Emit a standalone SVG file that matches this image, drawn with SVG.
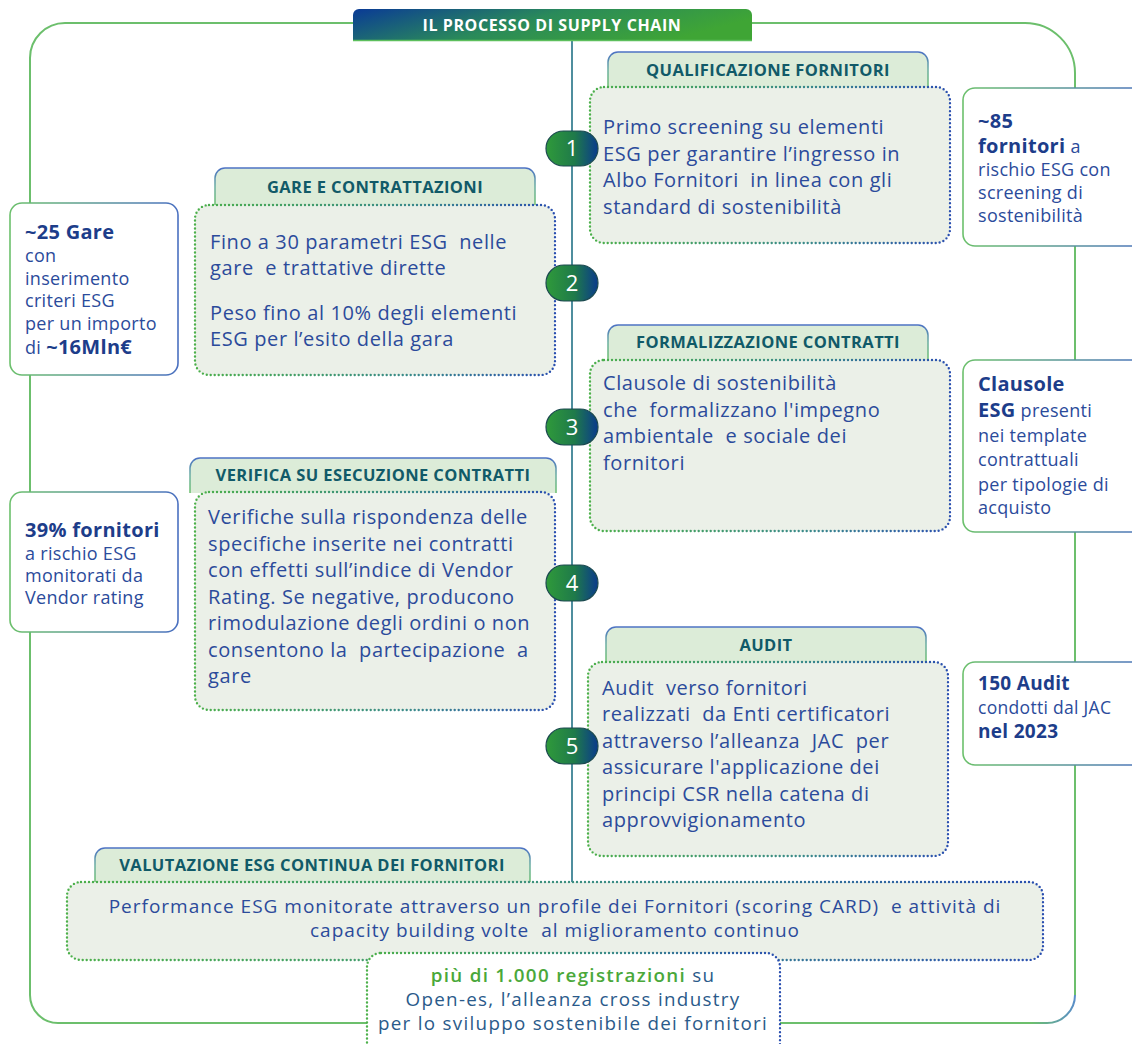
<svg xmlns="http://www.w3.org/2000/svg" width="1132" height="1044" viewBox="0 0 1132 1044">
<defs>
<linearGradient id="gTitle" x1="0" y1="0" x2="1" y2="0.3"><stop offset="0" stop-color="#0a3a96"/><stop offset="0.5" stop-color="#2a8a5a"/><stop offset="1" stop-color="#3fa535"/></linearGradient>
<linearGradient id="gBadge" x1="0" y1="0" x2="1" y2="0"><stop offset="0" stop-color="#2f9a3a"/><stop offset="0.55" stop-color="#1f7a4a"/><stop offset="1" stop-color="#0a3a8c"/></linearGradient>
<linearGradient id="gDot" x1="0" y1="0" x2="1" y2="0"><stop offset="0" stop-color="#4cb04a"/><stop offset="0.6" stop-color="#3a8a8a"/><stop offset="1" stop-color="#2a4fb0"/></linearGradient>
<linearGradient id="gStat" x1="0" y1="0" x2="1" y2="0"><stop offset="0" stop-color="#6cc06c"/><stop offset="1" stop-color="#4a70c0"/></linearGradient>
<linearGradient id="gTab" x1="0" y1="0" x2="0" y2="1"><stop offset="0" stop-color="#4d72c4"/><stop offset="0.5" stop-color="#6aaea0"/><stop offset="1" stop-color="#6cc06c"/></linearGradient>
<linearGradient id="gFrameB" x1="0" y1="0" x2="1" y2="0"><stop offset="0" stop-color="#6cbf6c"/><stop offset="0.85" stop-color="#6cbf6c"/><stop offset="1" stop-color="#5a8ec8"/></linearGradient>
<style>
.frame{fill:none;stroke:#6cbf6c;stroke-width:2}
.center{fill:none;stroke:#4f8e9e;stroke-width:2}
.tab{fill:#dcecd8;stroke:url(#gTab);stroke-width:1.5}
.tabt{font-family:"Open Sans","Noto Sans",sans-serif;font-weight:700;font-size:16.5px;letter-spacing:0.4px;fill:#115a68;text-anchor:middle}
.dot{fill:#ebf0e8;stroke:url(#gDot);stroke-width:2.4;stroke-dasharray:0 4;stroke-linecap:round}
.dotw{fill:#ffffff;stroke:url(#gDot);stroke-width:2.4;stroke-dasharray:0 4;stroke-linecap:round}
.body{font-family:"Open Sans","Noto Sans",sans-serif;font-size:20px;letter-spacing:0.6px;fill:#2b4b9b;white-space:pre}
.bot{font-family:"Open Sans","Noto Sans",sans-serif;font-size:19px;letter-spacing:1px;fill:#2b4b9b;text-anchor:middle;white-space:pre}
.oe{font-family:"Open Sans","Noto Sans",sans-serif;font-size:18.8px;letter-spacing:1.3px;fill:#2a5a8a;text-anchor:middle}
.stat{fill:#ffffff;stroke:url(#gStat);stroke-width:1.6}
.st{font-family:"Open Sans","Noto Sans",sans-serif;font-size:18px;letter-spacing:0.3px;fill:#2b4b9b}
.sb{font-weight:700;fill:#1d3d8a;font-size:20px}
.badge{fill:url(#gBadge);stroke:#1c4a50;stroke-width:1.2}
.bn{font-family:"Open Sans","Noto Sans",sans-serif;font-size:22px;fill:#ffffff;text-anchor:middle}
</style>
</defs>

<g id="connectors">
<path class="frame" d="M353 23 H65 A35 35 0 0 0 30 58 V995 A28 28 0 0 0 58 1023 H367"/>
<path class="frame" d="M752 23 H1025 A50 50 0 0 1 1075 73 V995"/>
<path fill="none" stroke="url(#gFrameB)" stroke-width="2" d="M780 1023 H1047 A28 28 0 0 0 1075 995"/>
<line class="center" x1="572" y1="41" x2="572" y2="882"/>
</g>

<g id="title">
<path d="M353 41 V15 A6 6 0 0 1 359 9 H746 A6 6 0 0 1 752 15 V41 Z" fill="url(#gTitle)"/>
<line x1="353" y1="40.5" x2="752" y2="40.5" stroke="#5cbf5c" stroke-width="1.5"/>
<text x="552" y="31" font-family="'Open Sans','Noto Sans',sans-serif" font-weight="700" font-size="16" letter-spacing="0.6" fill="#ffffff" text-anchor="middle">IL PROCESSO DI SUPPLY CHAIN</text>
</g>

<g id="step1">
<path class="tab" d="M608 88 V62 A10 10 0 0 1 618 52 H918 A10 10 0 0 1 928 62 V88"/>
<text class="tabt" x="768" y="76">QUALIFICAZIONE FORNITORI</text>
<rect class="dot" x="590" y="87" width="360" height="156" rx="14"/>
<text class="body" xml:space="preserve"><tspan x="603" y="134">Primo screening su elementi</tspan><tspan x="603" dy="26.5">ESG per garantire l’ingresso in</tspan><tspan x="603" dy="26.5">Albo Fornitori  in linea con gli</tspan><tspan x="603" dy="26.5">standard di sostenibilità</tspan></text>
<rect class="badge" x="546" y="131" width="52" height="35" rx="17.5"/>
<text class="bn" x="572" y="156">1</text>
</g>

<g id="stat1">
<rect class="stat" x="963" y="88" width="190" height="158" rx="12"/>
<text class="st"><tspan class="sb" x="978" y="128">~85</tspan><tspan x="978" y="153"><tspan class="sb">fornitori</tspan> a</tspan><tspan x="978" y="176">rischio ESG con</tspan><tspan x="978" y="199">screening di</tspan><tspan x="978" y="222">sostenibilità</tspan></text>
</g>

<g id="step2">
<path class="tab" d="M215 206 V178 A10 10 0 0 1 225 168 H525 A10 10 0 0 1 535 178 V206"/>
<text class="tabt" x="375" y="193">GARE E CONTRATTAZIONI</text>
<rect class="dot" x="195" y="205" width="360" height="170" rx="14"/>
<text class="body" xml:space="preserve"><tspan x="210" y="249">Fino a 30 parametri ESG  nelle</tspan><tspan x="210" y="275">gare  e trattative dirette</tspan><tspan x="210" y="320">Peso fino al 10% degli elementi</tspan><tspan x="210" y="346">ESG per l’esito della gara</tspan></text>
<rect class="badge" x="546" y="265" width="52" height="36" rx="18"/>
<text class="bn" x="572" y="291">2</text>
</g>

<g id="stat2">
<rect class="stat" x="10" y="203" width="168" height="172" rx="12"/>
<text class="st"><tspan class="sb" x="25" y="239">~25 Gare</tspan><tspan x="25" y="262">con</tspan><tspan x="25" y="284.5">inserimento</tspan><tspan x="25" y="307">criteri ESG</tspan><tspan x="25" y="329.5">per un importo</tspan><tspan x="25" y="354">di <tspan class="sb">~16Mln€</tspan></tspan></text>
</g>

<g id="step3">
<path class="tab" d="M608 360 V335 A10 10 0 0 1 618 325 H918 A10 10 0 0 1 928 335 V360"/>
<text class="tabt" x="768" y="348">FORMALIZZAZIONE CONTRATTI</text>
<rect class="dot" x="590" y="360" width="360" height="171" rx="14"/>
<text class="body" xml:space="preserve"><tspan x="603" y="390">Clausole di sostenibilità</tspan><tspan x="603" dy="26.5">che  formalizzano l'impegno</tspan><tspan x="603" dy="26.5">ambientale  e sociale dei</tspan><tspan x="603" dy="26.5">fornitori</tspan></text>
<rect class="badge" x="546" y="409" width="52" height="36" rx="18"/>
<text class="bn" x="572" y="435">3</text>
</g>

<g id="stat3">
<rect class="stat" x="963" y="360" width="190" height="172" rx="12"/>
<text class="st"><tspan class="sb" x="978" y="391">Clausole</tspan><tspan x="978" y="417"><tspan class="sb">ESG</tspan> presenti</tspan><tspan x="978" y="442">nei template</tspan><tspan x="978" y="466">contrattuali</tspan><tspan x="978" y="491">per tipologie di</tspan><tspan x="978" y="514">acquisto</tspan></text>
</g>

<g id="step4">
<path class="tab" d="M190 493 V468 A10 10 0 0 1 200 458 H546 A10 10 0 0 1 556 468 V493"/>
<text class="tabt" x="373" y="481">VERIFICA SU ESECUZIONE CONTRATTI</text>
<rect class="dot" x="195" y="492" width="360" height="218" rx="14"/>
<text class="body" xml:space="preserve"><tspan x="208" y="524">Verifiche sulla rispondenza delle</tspan><tspan x="208" dy="26.5">specifiche inserite nei contratti</tspan><tspan x="208" dy="26.5">con effetti sull’indice di Vendor</tspan><tspan x="208" dy="26.5">Rating. Se negative, producono</tspan><tspan x="208" dy="26.5">rimodulazione degli ordini o non</tspan><tspan x="208" dy="26.5">consentono la  partecipazione  a</tspan><tspan x="208" dy="26.5">gare</tspan></text>
<rect class="badge" x="546" y="565" width="52" height="36" rx="18"/>
<text class="bn" x="572" y="591">4</text>
</g>

<g id="stat4">
<rect class="stat" x="10" y="492" width="168" height="140" rx="12"/>
<text class="st"><tspan class="sb" x="25" y="537">39% fornitori</tspan><tspan x="25" y="560">a rischio ESG</tspan><tspan x="25" y="582">monitorati da</tspan><tspan x="25" y="604">Vendor rating</tspan></text>
</g>

<g id="step5">
<path class="tab" d="M606 662 V637 A10 10 0 0 1 616 627 H916 A10 10 0 0 1 926 637 V662"/>
<text class="tabt" x="766" y="651">AUDIT</text>
<rect class="dot" x="588" y="662" width="360" height="194" rx="14"/>
<text class="body" xml:space="preserve"><tspan x="602" y="694.5">Audit  verso fornitori</tspan><tspan x="602" dy="26.5">realizzati  da Enti certificatori</tspan><tspan x="602" dy="26.5">attraverso l’alleanza  JAC  per</tspan><tspan x="602" dy="26.5">assicurare l'applicazione dei</tspan><tspan x="602" dy="26.5">principi CSR nella catena di</tspan><tspan x="602" dy="26.5">approvvigionamento</tspan></text>
<rect class="badge" x="546" y="728" width="52" height="36" rx="18"/>
<text class="bn" x="572" y="754">5</text>
</g>

<g id="stat5">
<rect class="stat" x="963" y="662" width="190" height="103" rx="12"/>
<text class="st"><tspan class="sb" x="978" y="690" style="font-size:19px">150 Audit</tspan><tspan x="978" y="714" style="font-size:17.5px">condotti dal JAC</tspan><tspan class="sb" x="978" y="738" style="font-size:19px">nel 2023</tspan></text>
</g>

<g id="valutazione">
<path class="tab" d="M95 883 V858 A10 10 0 0 1 105 848 H520 A10 10 0 0 1 530 858 V883"/>
<text class="tabt" x="312" y="871">VALUTAZIONE ESG CONTINUA DEI FORNITORI</text>
<rect class="dot" x="67" y="882" width="976" height="78" rx="14"/>
<text class="bot" x="555" y="913" xml:space="preserve">Performance ESG monitorate attraverso un profile dei Fornitori (scoring CARD)  e attività di</text>
<text class="bot" x="555" y="937" xml:space="preserve">capacity building volte  al miglioramento continuo</text>
</g>

<g id="openes">
<rect class="dotw" x="367" y="953" width="413" height="110" rx="14"/>
<text class="oe" x="573" y="982"><tspan fill="#4aa83a" font-weight="600">più di 1.000 registrazioni</tspan> su</text>
<text class="oe" x="573" y="1006">Open-es, l’alleanza cross industry</text>
<text class="oe" x="573" y="1030">per lo sviluppo sostenibile dei fornitori</text>
</g>
</svg>
